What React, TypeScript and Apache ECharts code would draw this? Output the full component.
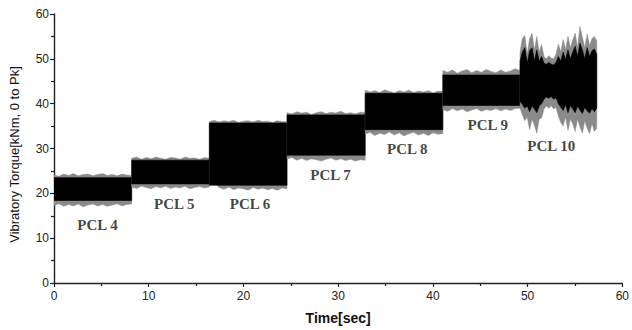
import React, { useEffect, useRef } from "react";
import * as echarts from "echarts";

// Segment time ranges (sec)
const segmentStart = [0, 8.2, 16.4, 24.6, 32.85, 41.05, 49.2];
const segmentEnd = [8.2, 16.4, 24.6, 32.85, 41.05, 49.2, 57.3];

// Black core band (kNm) for PCL 4..9
const coreLow = [18.4, 22.1, 21.8, 28.5, 34.2, 39.6];
const coreHigh = [23.5, 27.4, 35.7, 37.5, 42.3, 46.4];

// Gray peak envelopes (kNm), evenly sampled along each segment
const pcl4Upper = [24.1, 23.8, 24.3, 24.0, 24.4, 23.9, 24.2, 24.3, 23.9, 24.2, 24.4, 24.0, 24.2, 23.9, 24.3, 24.1, 24.0];
const pcl4Lower = [17.3, 17.7, 17.1, 17.5, 17.2, 17.6, 17.0, 17.4, 17.6, 17.2, 17.5, 17.1, 17.4, 17.7, 17.2, 17.5, 17.6];
const pcl5Upper = [27.8, 28.1, 27.6, 28.0, 27.7, 28.1, 27.8, 27.6, 28.0, 27.9, 27.6, 28.1, 27.8, 27.9, 27.6, 28.0, 27.8];
const pcl5Lower = [21.4, 21.1, 21.6, 21.3, 21.0, 21.5, 21.2, 21.6, 21.1, 21.4, 21.2, 21.6, 21.0, 21.3, 21.5, 21.2, 21.4];
const pcl6Upper = [36.0, 36.3, 35.9, 36.2, 36.0, 36.3, 35.8, 36.1, 36.2, 35.9, 36.3, 36.0, 36.1, 35.8, 36.2, 36.0, 35.9];
const pcl6Lower = [22.0, 22.6, 21.3, 20.9, 21.4, 20.8, 21.2, 21.0, 20.7, 21.3, 20.9, 21.2, 20.8, 21.1, 20.7, 21.2, 21.0];
const pcl7Upper = [38.0, 37.7, 38.2, 37.9, 38.1, 37.6, 38.0, 38.2, 37.8, 38.1, 37.9, 38.3, 37.8, 38.0, 37.7, 38.1, 38.0];
const pcl7Lower = [27.6, 28.0, 27.4, 27.8, 27.3, 27.7, 27.5, 27.2, 27.6, 27.9, 27.4, 27.7, 27.3, 27.6, 27.2, 27.5, 27.4];
const pcl8Upper = [43.0, 42.6, 42.9, 42.5, 43.1, 42.7, 42.4, 42.9, 42.6, 43.0, 42.5, 42.8, 42.6, 42.9, 42.4, 42.8, 42.7];
const pcl8Lower = [33.2, 33.6, 32.9, 33.4, 33.1, 33.7, 33.0, 33.5, 32.8, 33.3, 33.6, 33.0, 33.4, 32.9, 33.5, 33.2, 33.3];
const pcl9Upper = [47.4, 47.0, 47.5, 46.8, 47.3, 47.6, 46.9, 47.4, 47.0, 47.6, 47.2, 46.9, 47.5, 47.0, 47.3, 47.8, 47.4];
const pcl9Lower = [38.7, 38.3, 38.9, 38.4, 38.8, 38.2, 38.6, 38.9, 38.3, 38.7, 38.5, 38.9, 38.4, 38.8, 38.5, 38.9, 39.0];

// PCL 10: strongly varying envelopes
const pcl10OuterUpper = [51.5, 54.6, 55.2, 51.0, 54.5, 55.7, 52.0, 55.0, 51.5, 53.2, 50.5, 50.0, 50.7, 50.2, 50.0, 51.0, 53.3, 51.5, 54.3, 52.0, 55.0, 52.5, 54.2, 55.7, 52.5, 57.2, 54.8, 52.5, 55.5, 53.0, 54.5, 55.0, 54.0];
const pcl10CoreUpper = [49.5, 51.5, 52.5, 49.0, 51.8, 52.5, 49.5, 52.0, 49.5, 50.5, 49.0, 48.8, 49.2, 48.8, 48.6, 49.2, 50.5, 49.5, 51.5, 49.8, 52.0, 50.0, 51.5, 52.8, 50.5, 53.5, 52.0, 50.0, 52.5, 50.5, 51.8, 52.2, 51.0];
const pcl10CoreLower = [40.5, 39.8, 39.0, 39.5, 38.2, 39.5, 38.8, 38.0, 39.5, 40.0, 41.0, 41.5, 41.2, 41.6, 41.0, 41.3, 40.0, 39.2, 38.5, 39.8, 38.0, 39.6, 38.8, 38.0, 39.5, 38.6, 37.8, 39.2, 38.4, 37.9, 38.9, 38.2, 39.0];
const pcl10OuterLower = [39.0, 37.5, 36.2, 37.0, 34.2, 36.5, 35.2, 33.4, 36.5, 36.8, 38.8, 39.5, 39.0, 39.6, 38.8, 39.2, 37.2, 35.8, 35.0, 37.0, 34.0, 36.5, 35.5, 33.8, 36.5, 34.8, 33.4, 36.2, 34.5, 33.3, 35.6, 33.8, 34.5];

// Labels
const pclNames = ["PCL 4", "PCL 5", "PCL 6", "PCL 7", "PCL 8", "PCL 9", "PCL 10"];
const labelTime = [4.6, 12.7, 20.7, 29.2, 37.3, 45.8, 52.5];
const labelTorque = [13.0, 17.6, 17.6, 24.2, 30.0, 35.3, 30.5];

// Axis ticks
const xTicks = [0, 10, 20, 30, 40, 50, 60];
const yTicks = [0, 10, 20, 30, 40, 50, 60];

const outerUppers = [pcl4Upper, pcl5Upper, pcl6Upper, pcl7Upper, pcl8Upper, pcl9Upper, pcl10OuterUpper];
const outerLowers = [pcl4Lower, pcl5Lower, pcl6Lower, pcl7Lower, pcl8Lower, pcl9Lower, pcl10OuterLower];
const coreUppers = [...coreHigh.map((v) => [v, v]), pcl10CoreUpper];
const coreLowers = [...coreLow.map((v) => [v, v]), pcl10CoreLower];

function bandPoints(api: any, t0: number, t1: number, upper: number[], lower: number[]) {
  const pts: number[][] = [];
  const nu = upper.length;
  for (let k = 0; k < nu; k++) {
    pts.push(api.coord([t0 + ((t1 - t0) * k) / (nu - 1), upper[k]]));
  }
  const nl = lower.length;
  for (let k = nl - 1; k >= 0; k--) {
    pts.push(api.coord([t0 + ((t1 - t0) * k) / (nl - 1), lower[k]]));
  }
  return pts;
}

export default function App() {
  const ref = useRef<HTMLDivElement>(null);
  useEffect(() => {
    document.body.style.margin = "0";
    if (!ref.current) return;
    const chart = echarts.init(ref.current, undefined, { renderer: "svg" });
    const axisColor = "#222";
    const option: any = {
      animation: false,
      backgroundColor: "#fff",
      grid: { left: 48, right: 6, top: 14, bottom: 45, containLabel: false },
      xAxis: {
        type: "value",
        min: xTicks[0],
        max: xTicks[xTicks.length - 1],
        interval: 10,
        name: "Time[sec]",
        nameLocation: "middle",
        nameGap: 28,
        nameTextStyle: { fontFamily: "Liberation Sans", fontWeight: "bold", fontSize: 14, color: "#111" },
        axisLine: { show: true, onZero: false, lineStyle: { color: axisColor, width: 1.4 } },
        axisTick: { show: true, inside: false, length: 4, lineStyle: { color: axisColor, width: 1.2 } },
        minorTick: { show: true, splitNumber: 2, length: 3, lineStyle: { color: axisColor, width: 1.2 } },
        splitLine: { show: false },
        axisLabel: { color: "#222", fontFamily: "Liberation Sans", fontSize: 12, margin: 7 },
      },
      yAxis: {
        type: "value",
        min: yTicks[0],
        max: yTicks[yTicks.length - 1],
        interval: 10,
        name: "Vibratory Torque[kNm, 0 to Pk]",
        nameLocation: "middle",
        nameGap: 33,
        nameTextStyle: { fontFamily: "Liberation Sans", fontSize: 13, color: "#111", padding: [0, 12, 0, 0] },
        axisLine: { show: true, onZero: false, lineStyle: { color: axisColor, width: 1.4 } },
        axisTick: { show: true, inside: false, length: 4, lineStyle: { color: axisColor, width: 1.2 } },
        minorTick: { show: true, splitNumber: 2, length: 3, lineStyle: { color: axisColor, width: 1.2 } },
        splitLine: { show: false },
        axisLabel: { color: "#222", fontFamily: "Liberation Sans", fontSize: 12, margin: 5 },
      },
      series: [
        {
          type: "custom",
          clip: true,
          data: segmentStart.map((s, i) => [s, segmentEnd[i], i]),
          encode: { x: [0, 1] },
          renderItem: (params: any, api: any) => {
            const i = params.dataIndex;
            const t0 = segmentStart[i];
            const t1 = segmentEnd[i];
            return {
              type: "group",
              children: [
                {
                  type: "polygon",
                  shape: { points: bandPoints(api, t0, t1, outerUppers[i], outerLowers[i]) },
                  style: { fill: "#8a8a8a", stroke: "#8a8a8a", lineWidth: 0.5 },
                },
                {
                  type: "polygon",
                  shape: { points: bandPoints(api, t0, t1, coreUppers[i], coreLowers[i]) },
                  style: { fill: "#000", stroke: "#000", lineWidth: 0.6 },
                },
              ],
            };
          },
          z: 2,
        },
        {
          type: "scatter",
          symbolSize: 1,
          itemStyle: { color: "rgba(0,0,0,0)" },
          data: pclNames.map((n, i) => ({ name: n, value: [labelTime[i], labelTorque[i]] })),
          label: {
            show: true,
            position: "inside",
            formatter: "{b}",
            fontFamily: "Liberation Serif",
            fontWeight: "bold",
            fontSize: 15,
            color: "#111",
          },
          z: 3,
        },
      ],
    };
    chart.setOption(option);
    return () => chart.dispose();
  }, []);
  return <div ref={ref} style={{ width: 632, height: 330 }} />;
}
